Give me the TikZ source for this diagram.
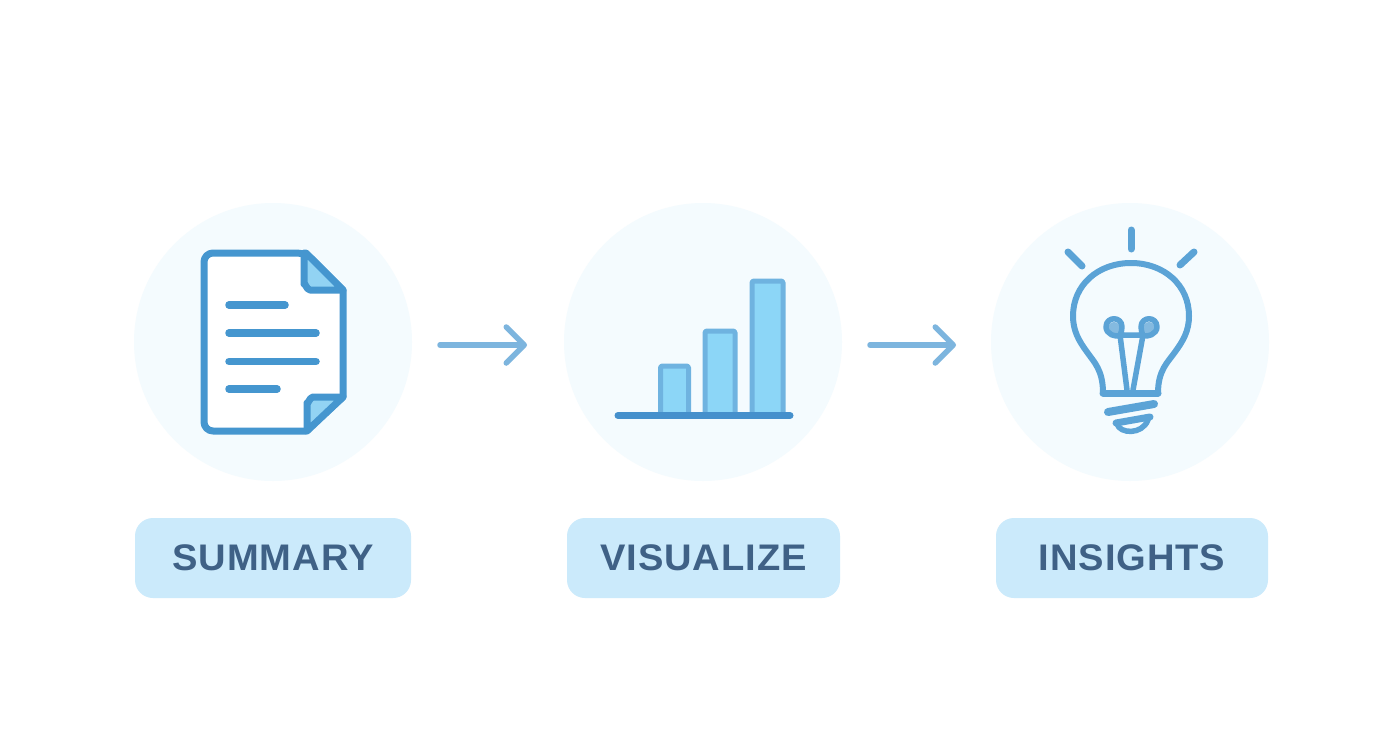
\documentclass[tikz,border=0pt]{standalone}
\usepackage{fontspec}
\setmainfont{Liberation Sans}[LetterSpace=2.5,FakeStretch=1.03]
\usetikzlibrary{arrows.meta}
\definecolor{halo}{HTML}{F4FBFE}
\definecolor{pillc}{HTML}{CBEAFB}
\definecolor{txtc}{HTML}{3F6186}
\definecolor{docc}{HTML}{4596CF}
\definecolor{foldc}{HTML}{92D3F3}
\definecolor{barline}{HTML}{6FB3E0}
\definecolor{barfill}{HTML}{8CD6F7}
\definecolor{basec}{HTML}{4590CC}
\definecolor{bulbc}{HTML}{5BA3D6}
\definecolor{arrowc}{HTML}{7DB5DE}
\tikzset{
  x=1pt,y=-1pt,
  halodisc/.style={circle,fill=halo,minimum size=278pt,inner sep=0pt},
  pill/.style={rectangle,rounded corners=18pt,fill=pillc,minimum height=80pt,inner sep=0pt,text=txtc,font=\fontsize{37}{40}\selectfont\bfseries},
  flow/.style={draw=arrowc,line width=5.5pt,line cap=round,line join=round,-{Straight Barb[length=18pt,width=36pt,round]}},
  docline/.style={draw=docc,line width=7pt,line cap=round,line join=round},
  doctext/.style={draw=docc,line width=7.5pt,line cap=round},
  chartbar/.style={draw=barline,fill=barfill,line width=5pt,line join=round,rounded corners=1.5pt},
  bulbline/.style={draw=bulbc,line width=6pt,line cap=round,line join=round},
}
\begin{document}
\begin{tikzpicture}
\useasboundingbox (0,0) rectangle (1392,752);
\fill[white!99.5!halo] (0,0) rectangle (1392,752);
% discs
\node[halodisc] (c1) at (273,342) {};
\node[halodisc] (c2) at (703,342) {};
\node[halodisc] (c3) at (1130,342) {};
% labels
\node[pill,minimum width=276pt] (p1) at (273,558) {SUMMARY};
\node[pill,minimum width=273pt] (p2) at (703.5,558) {VISUALIZE};
\node[pill,minimum width=272pt] (p3) at (1132,558) {INSIGHTS};
% connectors
\coordinate (a1s) at (440,345);
\coordinate (a1e) at (527,345);
\coordinate (a2s) at (870,345);
\coordinate (a2e) at (956,345);
\draw[flow] (a1s) -- (a1e);
\draw[flow] (a2s) -- (a2e);
% document icon
\path[fill=white,docline,rounded corners=9pt] (204,253) -- (306,253) [rounded corners=0pt] -- (343,290) -- (343,397) -- (306,431) [rounded corners=9pt] -- (204,431) -- cycle;
\path[fill=foldc,docline] (304,253) -- (306,253) -- (343,290) -- (310,290) to[out=180,in=90] (304,284) -- cycle;
\path[fill=foldc,docline] (343,397) -- (307,431) -- (307,403) to[out=-90,in=180] (313,397) -- cycle;
\draw[doctext] (229,305) -- (285,305);
\draw[doctext] (229,333) -- (316,333);
\draw[doctext] (229,361.5) -- (316,361.5);
\draw[doctext] (229,389) -- (277,389);
% chart icon
\draw[chartbar] (660.5,416) -- (660.5,366) -- (688.5,366) -- (688.5,416);
\draw[chartbar] (705,416) -- (705,331) -- (735,331) -- (735,416);
\draw[chartbar] (752,416) -- (752,281) -- (783,281) -- (783,416);
\draw[draw=basec,line width=7pt,line cap=round] (618,415.5) -- (790,415.5);
% bulb icon
\draw[bulbline,line width=7pt] (1131,230) -- (1131,249);
\draw[bulbline,line width=7pt] (1068,252) -- (1082,266);
\draw[bulbline,line width=7pt] (1194,252) -- (1180,265);
\draw[bulbline] (1103,393) .. controls (1103,370) and (1094,362) .. (1087,352)
  .. controls (1079,341) and (1073,331) .. (1073,316)
  .. controls (1073,285) and (1098,263) .. (1131,263)
  .. controls (1164,263) and (1189,285) .. (1189,316)
  .. controls (1189,331) and (1183,341) .. (1175,352)
  .. controls (1168,362) and (1158,370) .. (1158,393);
\draw[bulbline,line width=7pt] (1103,393) -- (1158,393);
\fill[bulbc!75!white] (1114,328) circle (6pt) (1149,328) circle (6pt);
\draw[bulbline,line width=5.5pt] (1127,390) -- (1120,335) .. controls (1116,338) and (1106,334) .. (1106,327)
  .. controls (1106,316) and (1122,316) .. (1122,327) .. controls (1122,330) and (1121,333) .. (1120,335) -- (1143,335)
  .. controls (1142,333) and (1141,330) .. (1141,327) .. controls (1141,316) and (1157,316) .. (1157,327)
  .. controls (1157,334) and (1147,338) .. (1143,335) -- (1133,390);
\draw[bulbline,line width=8pt] (1108,412) -- (1154,404);
\draw[bulbline,line width=7pt] (1116,423) -- (1150,417);
\draw[bulbline,line width=5.5pt] (1117,424) .. controls (1120,434) and (1142,435) .. (1148,420);
\end{tikzpicture}
\end{document}
